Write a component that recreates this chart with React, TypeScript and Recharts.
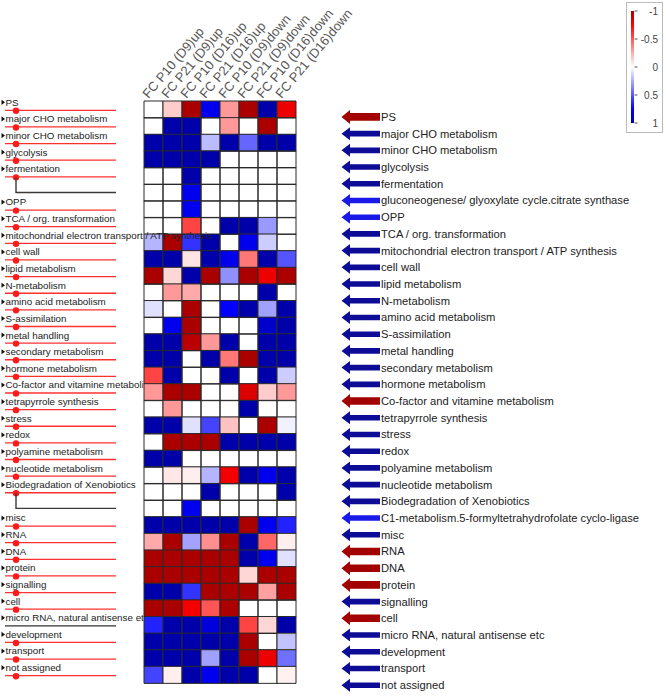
import { BarChart, Bar, XAxis, YAxis, Cell } from "recharts";

const FONT = '"Liberation Sans", Arial, sans-serif';

const CATEGORIES = [
  "PS",
  "major CHO metabolism",
  "minor CHO metabolism",
  "glycolysis",
  "fermentation",
  "gluconeogenese/ glyoxylate cycle.citrate synthase",
  "OPP",
  "TCA / org. transformation",
  "mitochondrial electron transport / ATP synthesis",
  "cell wall",
  "lipid metabolism",
  "N-metabolism",
  "amino acid metabolism",
  "S-assimilation",
  "metal handling",
  "secondary metabolism",
  "hormone metabolism",
  "Co-factor and vitamine metabolism",
  "tetrapyrrole synthesis",
  "stress",
  "redox",
  "polyamine metabolism",
  "nucleotide metabolism",
  "Biodegradation of Xenobiotics",
  "C1-metabolism.5-formyltetrahydrofolate cyclo-ligase",
  "misc",
  "RNA",
  "DNA",
  "protein",
  "signalling",
  "cell",
  "micro RNA, natural antisense etc",
  "development",
  "transport",
  "not assigned",
];

const COLUMNS = [
  "FC P10 (D9)up",
  "FC P21 (D9)up",
  "FC P10 (D16)up",
  "FC P21 (D16)up",
  "FC P10 (D9)down",
  "FC P21 (D9)down",
  "FC P10 (D16)down",
  "FC P21 (D16)down",
];

// one row per category, one value per column (-1 red .. 1 blue)
const FOLD_CHANGES = [
  [0, -0.15, -1, 0.8, -0.3, -1, 1, -0.8],
  [0, 1, 1, 0, -0.3, 0, -1, 0],
  [1, 1, 1, 0.2, 1, 0.45, 1, 1],
  [1, 1, 1, 1, 0, 0, 0, 0],
  [0, 0, 1, 0, 0, 0, 0, 0],
  [0, 0, 0.8, 0, 0, 0, 0, 0],
  [0, 0, 0.8, 0, 0, 0, 0, 0],
  [0, 0, -0.55, 0, 1, 1, 0.3, 0],
  [0.22, -1, 0.6, 1, 0, 0.8, 0.15, 0],
  [1, 1, -0.08, 1, 0.8, -0.4, 1, 0.5],
  [-1, -0.12, 1, -1, 0.33, -1, -0.8, -1],
  [0, -0.3, -0.25, 0, 0, 0, 1, 0],
  [0.09, 0, -1, 0, 0.75, 1, 0.28, 1],
  [0, 0.8, -1, 0, 0, 0, 0.9, 1],
  [1, 1, -0.95, -0.3, 1, 0, 1, 1],
  [1, 1, 0, 1, -0.4, -1, 1, 1],
  [-0.55, 1, 0, 0, 1, 0, 1, 0.15],
  [-0.3, -1, -1, 0, 0, -0.85, -0.15, -0.3],
  [0, -0.3, 0, 0, 0, 1, 0, 0],
  [1, 1, 0.09, 0.55, -0.18, 0, -1, 0.04],
  [0, -1, -1, -1, 1, 1, 1, 1],
  [1, 1, 0, 0, 0, 0, 0, 0],
  [0, -0.07, -0.05, 0.22, -0.78, 1, 0.8, 1],
  [0, 0, 0, 1, 0, 0, 0, 1],
  [0, 0, 0.8, 0, 0, 0, 0, 0],
  [1, 1, 1, 1, 1, -1, 0.8, 0.65],
  [-0.25, -1, 0.27, -0.33, -1, 1, -0.45, -0.05],
  [-1, -1, -1, -1, -1, 1, 0.8, 0.09],
  [-1, -1, -1, -1, -1, -0.12, -1, -1],
  [1, 1, 0.6, -1, -1, -1, -0.28, -1],
  [-1, -1, -0.78, -0.5, -1, 0, 0, 0],
  [0.65, 1, 1, 0.85, 1, -0.55, -0.12, 1],
  [1, 1, 1, 1, 1, -1, 0, 0.18],
  [1, 1, 1, 0.28, 1, -1, -0.8, 0.42],
  [0.55, -0.05, 1, 0.8, 1, 1, 0, -0.04],
];

// r = red arrow, b = dark blue, l = light blue
const ARROW_TONES = [
  "r", "b", "b", "b", "b", "l", "l", "b", "b", "b", "b", "b", "b", "b", "b", "b", "b", "r",
  "b", "b", "b", "b", "b", "b", "l", "b", "r", "r", "r", "b", "r", "b", "b", "b", "b",
];

const BRANCH_ROWS = [
  "gluconeogenese/ glyoxylate cycle.citrate synthase",
  "C1-metabolism.5-formyltetrahydrofolate cyclo-ligase",
];
const UNMARKED_ROWS = ["micro RNA, natural antisense etc"];
const OVERFLOW_ROWS = ["mitochondrial electron transport / ATP synthesis"];

const LEGEND_TICKS = [-1, -0.5, 0, 0.5, 1];

const ROW_H = (683 - 101) / CATEGORIES.length;

function heat(v: number) {
  const t = Math.abs(v);
  let a: number, b: number;
  if (t <= 0.75) {
    a = 255;
    b = Math.round(255 * (1 - t / 0.75));
  } else {
    a = Math.round(255 - 85 * ((t - 0.75) / 0.25));
    b = 0;
  }
  return v < 0 ? `rgb(${a},${b},${b})` : `rgb(${b},${b},${a})`;
}

const ARROW_FILL: Record<string, string> = { r: "#a30000", b: "#0c0c96", l: "#1a1ae8" };

const data = CATEGORIES.map((name) => {
  const row: Record<string, string | number> = { name };
  COLUMNS.forEach((_, j) => {
    row[`c${j}`] = 1;
  });
  return row;
});

function HeaderTick({ x, y, payload }: any) {
  const label = COLUMNS[Math.floor(payload.value)];
  const tx = x - 5;
  const ty = y + 1;
  return (
    <text x={tx} y={ty} transform={`rotate(-50 ${tx} ${ty})`} fontSize={13} fill="#555" fontFamily={FONT}>
      {label}
    </text>
  );
}

function LeftTick({ y, payload }: any) {
  const name = payload.value as string;
  const i = CATEGORIES.indexOf(name);
  if (BRANCH_ROWS.includes(name)) {
    return (
      <path d={`M16 ${y - ROW_H + 1.5} V ${y} H 116`} stroke="#3a3a3a" strokeWidth={1.4} fill="none" />
    );
  }
  const plain = UNMARKED_ROWS.includes(name);
  const clip = !OVERFLOW_ROWS.includes(name);
  const ty = y - 7;
  return (
    <g>
      <defs>
        <clipPath id={`leftclip${i}`}>
          <rect x={0} y={ty - 10} width={143.5} height={20} />
        </clipPath>
      </defs>
      <path d={`M1.5 ${ty - 2.6} L5 ${ty} L1.5 ${ty + 2.6} Z`} fill="#111" />
      <text
        x={5.5}
        y={ty + 3.4}
        fontSize={9.8}
        fill="#222"
        fontFamily={FONT}
        clipPath={clip ? `url(#leftclip${i})` : undefined}
      >
        {name}
      </text>
      <line x1={5} x2={116} y1={y + 1} y2={y + 1} stroke={plain ? "#333" : "#ff3030"} strokeWidth={1.3} />
      {!plain && <circle cx={16} cy={y + 1.5} r={3.2} fill="#ff1a1a" />}
    </g>
  );
}

function RightTick({ x, y, payload }: any) {
  const i = CATEGORIES.indexOf(payload.value);
  const tone = ARROW_TONES[i];
  const cy = y + 7.6 + i * 0.085;
  const big = tone === "r";
  const hh = big ? 7 : 6.5;
  const bh = big ? 3.8 : 2.8;
  const tip = x + 45.5;
  const base = x + 54;
  const end = x + 84;
  const d = `M${tip} ${cy} L${base} ${cy - hh} L${base} ${cy - bh} L${end} ${cy - bh} L${end} ${cy + bh} L${base} ${cy + bh} L${base} ${cy + hh} Z`;
  return (
    <g>
      <path d={d} fill={ARROW_FILL[tone]} />
      <text x={end + 1} y={cy + 4} fontSize={11.2} fill="#222" fontFamily={FONT}>
        {payload.value}
      </text>
    </g>
  );
}

function ColorLegend() {
  const top = 11;
  const bottom = 123;
  const pos = (v: number) => top + ((v + 1) / 2) * (bottom - top);
  return (
    <svg width={666} height={699} style={{ position: "absolute", left: 0, top: 0, pointerEvents: "none" }}>
      <defs>
        <linearGradient id="heatScale" x1="0" y1="0" x2="0" y2="1">
          {[-1, -0.75, 0, 0.75, 1].map((v) => (
            <stop key={v} offset={(v + 1) / 2} stopColor={heat(v)} />
          ))}
        </linearGradient>
      </defs>
      <rect x={626.5} y={2.5} width={36} height={130} fill="#fff" stroke="#bbb" />
      <rect x={631} y={top} width={3} height={bottom - top} fill="url(#heatScale)" />
      {LEGEND_TICKS.map((v) => (
        <g key={v}>
          <line x1={634.5} x2={637.5} y1={pos(v)} y2={pos(v)} stroke="#555" />
          <text x={658} y={pos(v) + 3.5} textAnchor="end" fontSize={10} fill="#444" fontFamily={FONT}>
            {v}
          </text>
        </g>
      ))}
    </svg>
  );
}

export default function App() {
  return (
    <div style={{ position: "absolute", left: 0, top: 0, width: 666, height: 699, background: "#fff" }}>
      <BarChart
        width={666}
        height={699}
        data={data}
        layout="vertical"
        barCategoryGap={0}
        barGap={0}
        margin={{ top: 100, right: 0, bottom: 16, left: 0 }}
      >
        <XAxis
          type="number"
          orientation="top"
          domain={[0, COLUMNS.length]}
          ticks={COLUMNS.map((_, j) => j + 0.5)}
          height={1}
          axisLine={false}
          tickLine={false}
          tickSize={0}
          tickMargin={3}
          interval={0}
          tick={<HeaderTick />}
        />
        <YAxis
          yAxisId="left"
          type="category"
          dataKey="name"
          width={144}
          axisLine={false}
          tickLine={false}
          tickSize={0}
          tickMargin={0}
          interval={0}
          tick={<LeftTick />}
        />
        <YAxis
          yAxisId="right"
          orientation="right"
          type="category"
          dataKey="name"
          width={370}
          axisLine={false}
          tickLine={false}
          tickSize={0}
          tickMargin={0}
          interval={0}
          tick={<RightTick />}
        />
        {COLUMNS.map((col, j) => (
          <Bar
            key={col}
            dataKey={`c${j}`}
            stackId="grid"
            yAxisId="left"
            stroke="#2a2a2a"
            strokeWidth={1}
            isAnimationActive={false}
          >
            {FOLD_CHANGES.map((row, i) => (
              <Cell key={i} fill={heat(row[j])} fillOpacity={row[j] === 0 ? 0 : 1} />
            ))}
          </Bar>
        ))}
      </BarChart>
      <ColorLegend />
    </div>
  );
}
